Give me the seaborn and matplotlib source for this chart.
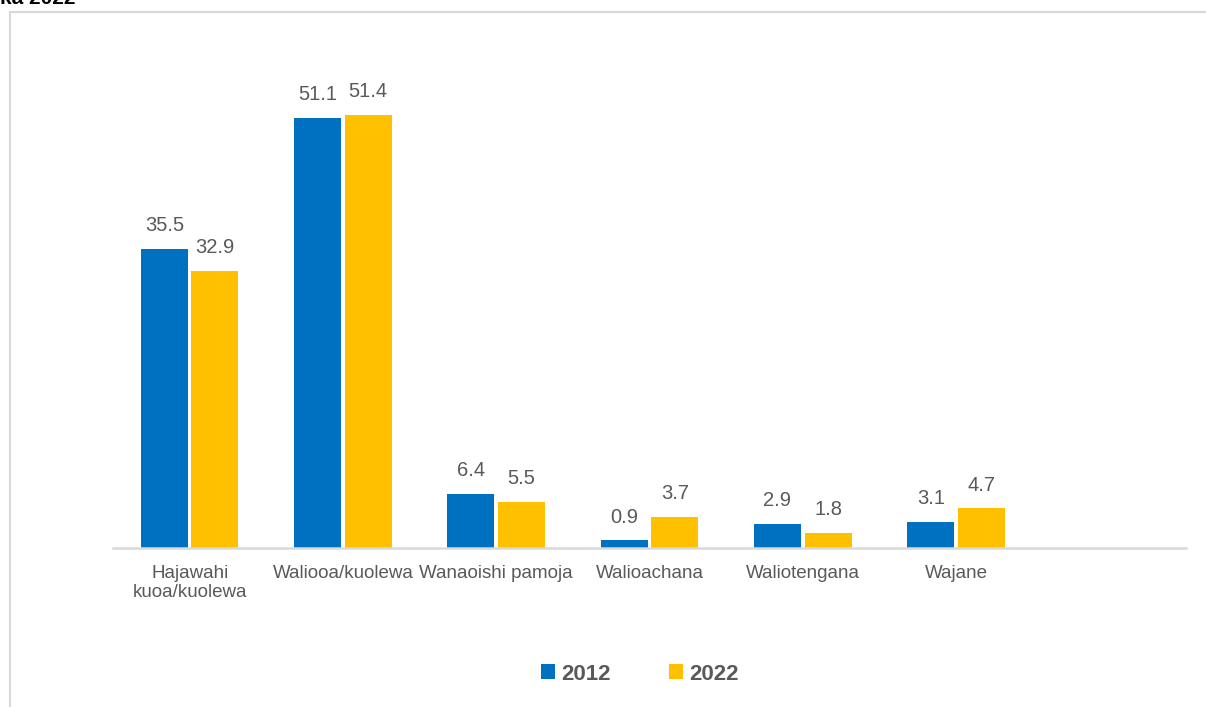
import matplotlib
matplotlib.use("Agg")
import matplotlib.pyplot as plt
import seaborn as sns
import pandas as pd
from matplotlib.patches import Rectangle, Patch

categories = ["Hajawahi\nkuoa/kuolewa", "Waliooa/kuolewa", "Wanaoishi pamoja",
              "Walioachana", "Waliotengana", "Wajane"]
years = ["2012", "2022"]
values_2012 = [35.5, 51.1, 6.4, 0.9, 2.9, 3.1]
values_2022 = [32.9, 51.4, 5.5, 3.7, 1.8, 4.7]
colors = ["#0070C0", "#FFC000"]

df = pd.DataFrame({
    "cat": categories * 2,
    "year": [years[0]] * len(categories) + [years[1]] * len(categories),
    "val": values_2012 + values_2022,
})

sns.set_theme(style="white")
plt.rcParams["font.family"] = ["Liberation Sans", "DejaVu Sans"]
txt = "#595959"

fig = plt.figure(figsize=(12.06, 7.07), dpi=100)
ax = fig.add_axes([113 / 1206, 1 - 548 / 707, (1186 - 113) / 1206, (548 - 43) / 707])

sns.barplot(data=df, x="cat", y="val", hue="year", palette=colors, order=categories,
            hue_order=years, width=0.66, gap=0.07, ax=ax, legend=False,
            edgecolor="none", saturation=1)

for cont in ax.containers:
    ax.bar_label(cont, fmt="%.1f", padding=10, fontsize=14.5, color=txt)

ax.set_xlim(-0.5, 6.5)
ax.set_ylim(0, 60)
ax.set_xlabel("")
ax.set_ylabel("")
ax.set_yticks([])
for s in ["top", "right", "left"]:
    ax.spines[s].set_visible(False)
ax.spines["bottom"].set_color("#D9D9D9")
ax.spines["bottom"].set_linewidth(1.8)
ax.tick_params(axis="x", length=0, pad=12, labelsize=13.5, labelcolor=txt)
for lab in ax.get_xticklabels():
    lab.set_linespacing(1.15)

# legend
handles = [Patch(facecolor=c, edgecolor="none") for c in colors]
leg = fig.legend(handles, years, loc="center", bbox_to_anchor=(640 / 1206, 1 - 674 / 707),
                 ncol=2, frameon=False, handlelength=0.63, handleheight=0.63,
                 handletextpad=0.3, columnspacing=2.6,
                 prop={"size": 16, "weight": "bold"})
for t in leg.get_texts():
    t.set_color(txt)

# outer frame (cut off at right and bottom)
fig.patches.append(Rectangle((10 / 1206, -0.2), 1.2, 1.2 - 12 / 707,
                             transform=fig.transFigure, fill=False,
                             edgecolor="#D9D9D9", linewidth=1.5))

# clipped title fragment
fig.text(0.5 / 1206, 1 - 4 / 707, "ka 2022", fontsize=15, fontweight="bold",
         color="black", va="baseline", ha="left")

fig.savefig("out.png", dpi=100, facecolor="white")
